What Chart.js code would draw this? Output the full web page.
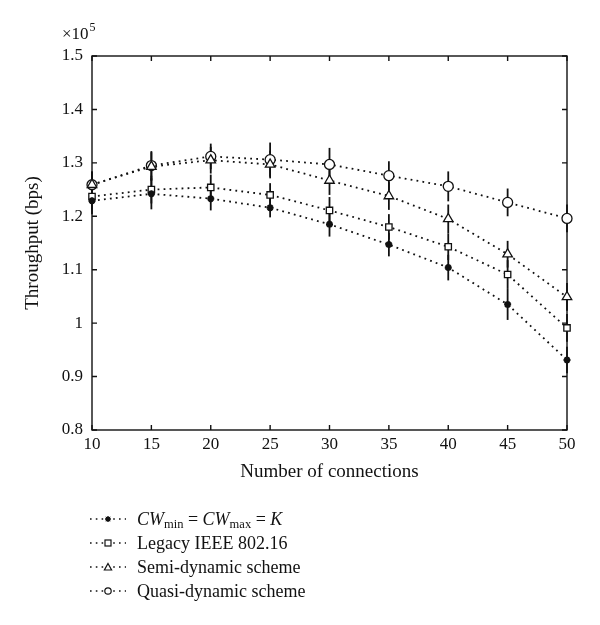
<!DOCTYPE html>
<html>
<head>
<meta charset="utf-8">
<script src="https://cdn.jsdelivr.net/npm/chart.js@4.4.1/dist/chart.umd.min.js"></script>
<style>
  html, body { margin:0; padding:0; background:#fff; }
  #wrap { position:relative; width:600px; height:625px; }
  #legend { position:absolute; left:88px; top:507px; font-family:"Liberation Serif", serif; font-size:18px; color:#111; }
  .item { height:24px; display:flex; align-items:center; }
  .item svg { margin-right:9px; }
  sub { font-size:12.5px; vertical-align:-3px; line-height:0; }
</style>
</head>
<body>
<div id="wrap">
  <canvas id="c" width="600" height="625"></canvas>
  <div id="legend"></div>
</div>
<script>
// ---- data ----
const connections = [10, 15, 20, 25, 30, 35, 40, 45, 50];
const cwFixed = [1.229, 1.242, 1.233, 1.216, 1.185, 1.147, 1.104, 1.035, 0.931];
const legacy  = [1.237, 1.250, 1.254, 1.240, 1.211, 1.180, 1.143, 1.091, 0.991];
const semi    = [1.259, 1.293, 1.305, 1.297, 1.267, 1.238, 1.195, 1.129, 1.049];
const quasi   = [1.259, 1.295, 1.312, 1.306, 1.297, 1.276, 1.256, 1.226, 1.196];
const cwFixedErr = [0.025, 0.029, 0.022, 0.018, 0.023, 0.022, 0.024, 0.029, 0.025];
const legacyErr  = [0.025, 0.026, 0.024, 0.022, 0.025, 0.024, 0.025, 0.027, 0.026];
const semiErr    = [0.025, 0.027, 0.025, 0.026, 0.027, 0.026, 0.027, 0.025, 0.026];
const quasiErr   = [0.025, 0.027, 0.024, 0.032, 0.031, 0.027, 0.028, 0.026, 0.026];
const seriesLabels = ['CW_min = CW_max = K', 'Legacy IEEE 802.16', 'Semi-dynamic scheme', 'Quasi-dynamic scheme'];
const seriesLabelsHtml = ['<i>CW</i><sub>min</sub> = <i>CW</i><sub>max</sub> = <i>K</i>', 'Legacy IEEE 802.16', 'Semi-dynamic scheme', 'Quasi-dynamic scheme'];
const yTickLabels = ['0.8', '0.9', '1', '1.1', '1.2', '1.3', '1.4', '1.5'];
const xTickLabels = ['10', '15', '20', '25', '30', '35', '40', '45', '50'];
const yExponent = '5';

const SERIF = '"Liberation Serif", "Times New Roman", serif';
const INK = '#111';

function mk(label, vals, errs, style, radius) {
  return {
    label: label,
    data: connections.map((x, i) => ({ x: x, y: vals[i] })),
    errors: errs,
    clip: false,
    borderColor: INK,
    borderWidth: 1.8,
    borderDash: [1.8, 4.2],
    pointStyle: style,
    pointRadius: radius,
    pointBorderColor: INK,
    pointBorderWidth: style === 'star' ? 2.2 : 1.3,
    pointBackgroundColor: style === 'star' ? INK : '#fff',
    tension: 0,
    fill: false
  };
}

const errorBars = {
  id: 'errorBars',
  beforeDatasetsDraw(chart) {
    const ctx = chart.ctx, y = chart.scales.y, x = chart.scales.x;
    ctx.save();
    ctx.strokeStyle = INK;
    ctx.lineWidth = 1.8;
    chart.data.datasets.forEach(ds => {
      ds.data.forEach((p, i) => {
        const px = x.getPixelForValue(p.x);
        ctx.beginPath();
        ctx.moveTo(px, y.getPixelForValue(p.y + ds.errors[i]));
        ctx.lineTo(px, y.getPixelForValue(p.y - ds.errors[i]));
        ctx.stroke();
      });
    });
    ctx.restore();
  }
};

const frame = {
  id: 'frame',
  beforeDatasetsDraw(chart) {
    const ctx = chart.ctx, a = chart.chartArea, xs = chart.scales.x, ys = chart.scales.y;
    ctx.save();
    ctx.strokeStyle = INK;
    ctx.lineWidth = 1.4;
    ctx.strokeRect(a.left, a.top, a.right - a.left, a.bottom - a.top);
    const L = 5;
    ctx.beginPath();
    xs.ticks.forEach(t => {
      const px = xs.getPixelForValue(t.value);
      ctx.moveTo(px, a.bottom); ctx.lineTo(px, a.bottom - L);
      ctx.moveTo(px, a.top); ctx.lineTo(px, a.top + L);
    });
    ys.ticks.forEach(t => {
      const py = ys.getPixelForValue(t.value);
      ctx.moveTo(a.left, py); ctx.lineTo(a.left + L, py);
      ctx.moveTo(a.right, py); ctx.lineTo(a.right - L, py);
    });
    ctx.stroke();
    // exponent label
    ctx.fillStyle = INK;
    ctx.textBaseline = 'alphabetic';
    ctx.textAlign = 'left';
    ctx.font = '17px ' + SERIF;
    const base = '\u00d710';
    ctx.fillText(base, 62, 39);
    const w = ctx.measureText(base).width;
    ctx.font = '12px ' + SERIF;
    ctx.fillText(yExponent, 62 + w + 1, 31);
    ctx.restore();
  }
};

new Chart(document.getElementById('c'), {
  type: 'line',
  data: {
    datasets: [
      mk(seriesLabels[0], cwFixed, cwFixedErr, 'star', 3.5),
      mk(seriesLabels[1], legacy, legacyErr, 'rect', 4.5),
      mk(seriesLabels[2], semi, semiErr, 'triangle', 5.5),
      mk(seriesLabels[3], quasi, quasiErr, 'circle', 5)
    ]
  },
  options: {
    responsive: false,
    devicePixelRatio: 1,
    animation: false,
    layout: { padding: { top: 56, right: 33, left: 0, bottom: 142 } },
    plugins: { legend: { display: false }, tooltip: { enabled: false } },
    scales: {
      x: {
        type: 'linear', min: 10, max: 50,
        afterFit(s) { s.height = 53; },
        grid: { display: false, drawTicks: false },
        border: { display: false },
        ticks: {
          stepSize: 5, padding: 4, color: INK, maxRotation: 0, autoSkip: false,
          font: { family: SERIF, size: 17 },
          callback: (v) => xTickLabels[connections.indexOf(v)] ?? ''
        },
        title: { display: true, text: 'Number of connections', color: INK,
          font: { family: SERIF, size: 19 }, padding: { top: 0, bottom: 0 } }
      },
      y: {
        min: 0.8, max: 1.5,
        afterFit(s) { s.width = 92; },
        grid: { display: false, drawTicks: false },
        border: { display: false },
        ticks: {
          stepSize: 0.1, padding: 9, color: INK,
          font: { family: SERIF, size: 17 },
          callback: (v) => yTickLabels[Math.round((v - 0.8) * 10)] ?? ''
        },
        title: { display: true, text: 'Throughput (bps)', color: INK,
          font: { family: SERIF, size: 19 }, padding: { top: 22, bottom: 0 } }
      }
    }
  },
  plugins: [frame, errorBars]
});

// ---- HTML legend ----
const markerSvg = {
  star: '<circle cx="20" cy="12" r="2.6" fill="#111"/><path d="M17,12h6M20,9v6M17.8,9.8l4.4,4.4M22.2,9.8l-4.4,4.4" stroke="#111" stroke-width="1"/>',
  rect: '<rect x="17" y="9" width="6" height="6" fill="#fff" stroke="#111" stroke-width="1.2"/>',
  triangle: '<path d="M20,8.5 L23.6,15 L16.4,15 Z" fill="#fff" stroke="#111" stroke-width="1.2"/>',
  circle: '<circle cx="20" cy="12" r="3.2" fill="#fff" stroke="#111" stroke-width="1.2"/>'
};
const styles = ['star', 'rect', 'triangle', 'circle'];
const leg = document.getElementById('legend');
seriesLabelsHtml.forEach((html, i) => {
  const d = document.createElement('div');
  d.className = 'item';
  d.innerHTML = '<svg width="40" height="24" viewBox="0 0 40 24">' +
    '<line x1="2" y1="12" x2="38" y2="12" stroke="#111" stroke-width="1.6" stroke-dasharray="1.6 4.2"/>' +
    markerSvg[styles[i]] + '</svg><span>' + html + '</span>';
  leg.appendChild(d);
});
</script>
</body>
</html>
